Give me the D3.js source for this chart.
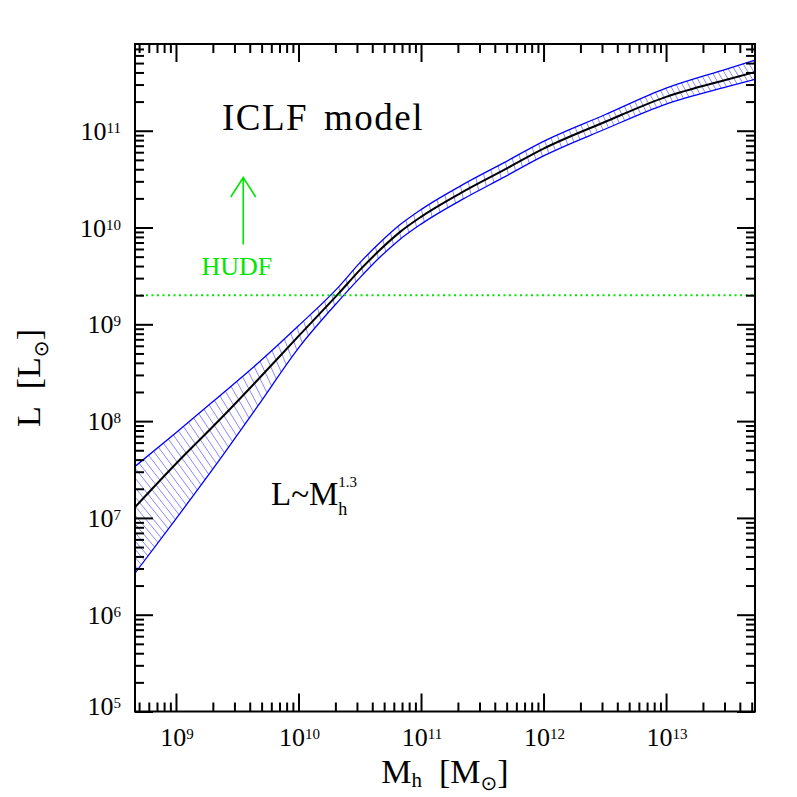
<!DOCTYPE html>
<html>
<head>
<meta charset="utf-8">
<script src="https://cdn.jsdelivr.net/npm/d3@7"></script>
<style>
  body { margin: 0; background: #fff; }
  text { font-family: "Liberation Serif", "DejaVu Serif", serif; fill: #000; }
</style>
</head>
<body>
<script>
var massLog  = [8.666, 9.0, 9.33, 9.67, 10.0, 10.33, 10.5, 10.67, 10.83, 11.0, 11.33, 11.67, 12.0, 12.5, 13.0, 13.5, 13.726];
// log10 luminosity L [L_sun]: median relation, and upper / lower edge of the band
var lumMid   = [7.112, 7.56, 7.98, 8.43, 8.878, 9.322, 9.56, 9.775, 9.955, 10.11, 10.36, 10.59, 10.815, 11.09, 11.35, 11.53, 11.606];
var lumUpper = [7.532, 7.879, 8.232, 8.60, 8.985, 9.39, 9.635, 9.85, 10.03, 10.185, 10.435, 10.665, 10.89, 11.165, 11.44, 11.64, 11.73];
var lumLower = [6.429, 6.99, 7.555, 8.16, 8.755, 9.245, 9.48, 9.70, 9.88, 10.035, 10.285, 10.515, 10.74, 11.015, 11.275, 11.455, 11.53];

// axis ranges and labelled decades
var massRange = [4.63e8, 5.32e13];
var lumRange  = [1e5, 7.87e11];
var massLabels = [9, 10, 11, 12, 13];
var lumLabels  = [5, 6, 7, 8, 9, 10, 11];

// HUDF detection limit and the arrow above it
var hudfLimit = 2e9;
var arrowMass = Math.pow(10, 9.549);
var arrowLum  = [Math.pow(10, 9.824), Math.pow(10, 10.517)];

window.onload = drawChart;

function drawChart() {
    var width = 797, height = 797;
    var svg = d3.select("body").append("svg")
        .attr("width", width)
        .attr("height", height);

    var pLeft = 135, pRight = 755, pTop = 44, pBottom = 711.5;

    var x = d3.scaleLog().domain(massRange).range([pLeft, pRight]);
    var y = d3.scaleLog().domain(lumRange).range([pBottom, pTop]);

    var pts = function(arr) {
        return massLog.map(function(m, i) { return [Math.pow(10, m), Math.pow(10, arr[i])]; });
    };

    var defs = svg.append("defs");
    defs.append("clipPath").attr("id", "plotClip")
        .append("rect")
        .attr("x", pLeft).attr("y", pTop)
        .attr("width", pRight - pLeft).attr("height", pBottom - pTop);

    var area = d3.area()
        .x(function(d) { return x(Math.pow(10, d.m)); })
        .y0(function(d) { return y(Math.pow(10, d.lo)); })
        .y1(function(d) { return y(Math.pow(10, d.hi)); })
        .curve(d3.curveMonotoneX);
    var bandData = massLog.map(function(m, i) { return {m: m, lo: lumLower[i], hi: lumUpper[i]}; });
    defs.append("clipPath").attr("id", "bandClip")
        .append("path")
        .attr("d", area(bandData));

    var line = d3.line()
        .x(function(d) { return x(d[0]); })
        .y(function(d) { return y(d[1]); })
        .curve(d3.curveMonotoneX);

    var plot = svg.append("g").attr("clip-path", "url(#plotClip)");

    // hatching inside the band, lines anchored on the lower edge
    var lowerLog = d3.scaleLinear().domain(massLog).range(lumLower);
    var hatchAngle = d3.scaleLinear()
        .domain([8.6, 9.5, 10.2, 11.5, 12.5, 13.8])
        .range([47, 58, 75, 78, 66, 58])
        .clamp(true);
    var hatchGap = d3.scaleLinear()
        .domain([8.6, 9.8, 10.5, 11.5, 12.5, 13.8])
        .range([7, 8, 9.5, 8.5, 6.5, 6])
        .clamp(true);
    var lowerPx = function(px) {
        return y(Math.pow(10, lowerLog(Math.log10(x.invert(px)))));
    };
    var hatches = [];
    var px = pLeft;
    while (px < pRight + 60) {
        var lm = Math.log10(x.invert(px));
        var th = hatchAngle(lm) * Math.PI / 180;
        var rise = lowerPx(px) - lowerPx(px + 1);
        hatches.push({x: px, y: lowerPx(px), th: th});
        px += hatchGap(lm) / (1 + Math.max(rise, 0) / Math.tan(th));
    }
    plot.append("g")
        .attr("clip-path", "url(#bandClip)")
        .selectAll("line")
        .data(hatches)
        .enter()
        .append("line")
        .attr("x1", function(d) { return d.x + 10 * Math.cos(d.th); })
        .attr("y1", function(d) { return d.y + 10 * Math.sin(d.th); })
        .attr("x2", function(d) { return d.x - 300 * Math.cos(d.th); })
        .attr("y2", function(d) { return d.y - 300 * Math.sin(d.th); })
        .attr("stroke", "#6b6bff")
        .attr("stroke-width", 0.8);

    // band edges
    [lumUpper, lumLower].forEach(function(arr) {
        plot.append("path")
            .datum(pts(arr))
            .attr("d", line)
            .attr("fill", "none")
            .attr("stroke", "#0000ff")
            .attr("stroke-width", 1.3);
    });

    // median relation
    plot.append("path")
        .datum(pts(lumMid))
        .attr("d", line)
        .attr("fill", "none")
        .attr("stroke", "#000")
        .attr("stroke-width", 2);

    // HUDF limit
    plot.append("path")
        .datum([[massRange[0], hudfLimit], [massRange[1], hudfLimit]])
        .attr("d", d3.line().x(function(d) { return x(d[0]); }).y(function(d) { return y(d[1]); }))
        .attr("stroke", "#00e600")
        .attr("stroke-width", 2)
        .attr("stroke-dasharray", "2,3.5");

    var ax = x(arrowMass), ay0 = y(arrowLum[0]), ay1 = y(arrowLum[1]);
    svg.append("path")
        .attr("d", "M" + ax + "," + ay0 + "L" + ax + "," + ay1 +
                   "M" + (ax - 12.5) + "," + (ay1 + 19.5) + "L" + ax + "," + ay1 + "L" + (ax + 12.5) + "," + (ay1 + 19.5))
        .attr("fill", "none")
        .attr("stroke", "#00e600")
        .attr("stroke-width", 1.6);

    svg.append("text")
        .attr("x", 201.5).attr("y", 275)
        .attr("font-size", 26)
        .style("fill", "#00e600")
        .text("HUDF");

    svg.append("text")
        .attr("x", 222).attr("y", 130)
        .attr("font-size", 37)
        .attr("letter-spacing", 1.5)
        .attr("word-spacing", 5)
        .text("ICLF model");

    // L ~ M_h^1.3
    var rel = svg.append("text").attr("x", 271).attr("y", 505).attr("font-size", 33);
    rel.append("tspan").text("L~M");
    var sub = rel.append("tspan").attr("font-size", 18).attr("dy", 10).text("h");
    var subW = sub.node().getComputedTextLength();
    rel.append("tspan").attr("font-size", 15).attr("dy", -28).attr("dx", -subW).text("1.3");

    // axes: major and minor ticks on all four sides
    function logTicks(domain, major) {
        var out = [];
        var lo = Math.floor(Math.log10(domain[0])), hi = Math.ceil(Math.log10(domain[1]));
        for (var e = lo; e <= hi; e++) {
            for (var k = 1; k < 10; k++) {
                var v = k * Math.pow(10, e);
                if (v < domain[0] * 0.9999 || v > domain[1] * 1.0001) continue;
                if ((k === 1) === major) out.push(v);
            }
        }
        return out;
    }

    function addAxis(axisFn, scale, transform) {
        [[true, -18], [false, -9]].forEach(function(t) {
            var g = svg.append("g")
                .attr("transform", transform)
                .call(axisFn(scale).tickValues(logTicks(scale.domain(), t[0])).tickSize(t[1]).tickFormat(""));
            g.select(".domain").remove();
            g.selectAll("line").attr("stroke", "#000").attr("stroke-width", 2);
        });
    }
    addAxis(d3.axisBottom, x, "translate(0," + pBottom + ")");
    addAxis(d3.axisTop, x, "translate(0," + pTop + ")");
    addAxis(d3.axisLeft, y, "translate(" + pLeft + ",0)");
    addAxis(d3.axisRight, y, "translate(" + pRight + ",0)");

    svg.append("rect")
        .attr("x", pLeft).attr("y", pTop)
        .attr("width", pRight - pLeft).attr("height", pBottom - pTop)
        .attr("fill", "none")
        .attr("stroke", "#000")
        .attr("stroke-width", 2);

    // tick labels
    massLabels.forEach(function(e) {
        var t = svg.append("text")
            .attr("x", x(Math.pow(10, e)) + 1)
            .attr("y", 746)
            .attr("text-anchor", "middle")
            .attr("font-size", 26);
        t.append("tspan").text("10");
        t.append("tspan").attr("font-size", 15).attr("dy", -7).text(e);
    });
    lumLabels.forEach(function(e, i) {
        var t = svg.append("text")
            .attr("x", 121)
            .attr("y", y(Math.pow(10, e)) + (i === 0 ? 3.5 : 9))
            .attr("text-anchor", "end")
            .attr("font-size", 26);
        t.append("tspan").text("10");
        t.append("tspan").attr("font-size", 15).attr("dy", -7).text(e);
    });

    // axis titles
    var xt = svg.append("text")
        .attr("x", 445).attr("y", 783)
        .attr("text-anchor", "middle")
        .attr("font-size", 34);
    xt.append("tspan").text("M");
    xt.append("tspan").attr("font-size", 21).attr("dy", 4).text("h");
    xt.append("tspan").attr("dy", -4).text("\u00a0\u00a0[M");
    xt.append("tspan").attr("font-size", 20).attr("dy", 7)
        .style("font-family", "DejaVu Sans").text("\u2299");
    xt.append("tspan").attr("dy", -7).text("]");

    var yt = svg.append("text")
        .attr("transform", "translate(40,378) rotate(-90)")
        .attr("text-anchor", "middle")
        .attr("font-size", 34);
    yt.append("tspan").text("L\u00a0\u00a0[L");
    yt.append("tspan").attr("font-size", 20).attr("dy", 8)
        .style("font-family", "DejaVu Sans").text("\u2299");
    yt.append("tspan").attr("dy", -8).text("]");
}
</script>
</body>
</html>
